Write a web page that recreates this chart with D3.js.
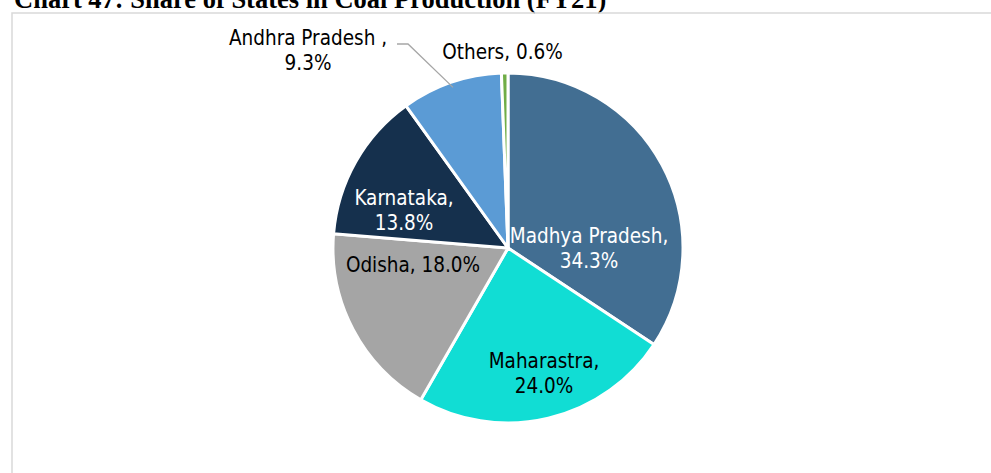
<!DOCTYPE html>
<html>
<head>
<meta charset="utf-8">
<script src="https://cdn.jsdelivr.net/npm/d3@7"></script>
<style>
  html, body { margin: 0; padding: 0; background: #fff; }
  svg { display: block; }
</style>
</head>
<body>
<svg id="chart" width="991" height="473"></svg>
<script>
// Share of states in coal production, FY21 (%)
const states = ["Madhya Pradesh", "Maharastra", "Odisha", "Karnataka", "Andhra Pradesh", "Others"];
const shares = [34.3, 24.0, 18.0, 13.8, 9.3, 0.6];
const sliceColors = ["#426e92", "#11ddd4", "#a5a5a5", "#15304d", "#5b9bd5", "#70ad47"];
const labelInk = ["#ffffff", "#000000", "#000000", "#ffffff", "#000000", "#000000"];
const labelLines = [
  ["Madhya Pradesh,", "34.3%"],
  ["Maharastra,", "24.0%"],
  ["Odisha, 18.0%"],
  ["Karnataka,", "13.8%"],
  ["Andhra Pradesh ,", "9.3%"],
  ["Others, 0.6%"]
];

const svg = d3.select("#chart");
const cx = 508, cy = 248, R = 175;
const labelFont = "'DejaVu Sans Condensed', 'DejaVu Sans', sans-serif";

// Title (runs past the top edge of the page)
svg.append("text")
  .attr("x", 14).attr("y", 8)
  .attr("font-family", "'Liberation Serif', 'Times New Roman', serif")
  .attr("font-weight", "bold")
  .attr("font-size", 26.5)
  .attr("fill", "#000")
  .text("Chart 47: Share of States in Coal Production (FY21)");

// Chart frame
svg.append("rect")
  .attr("x", 12).attr("y", 13)
  .attr("width", 1100).attr("height", 600)
  .attr("fill", "none")
  .attr("stroke", "#d9d9d9")
  .attr("stroke-width", 1.5);

const data = states.map((s, i) => ({ state: s, value: shares[i], i }));
const pie = d3.pie().value(d => d.value).sort(null);
const arcs = pie(data);
const arc = d3.arc().innerRadius(0).outerRadius(R);

const g = svg.append("g").attr("transform", `translate(${cx},${cy})`);
g.selectAll("path.slice")
  .data(arcs)
  .join("path")
  .attr("class", "slice")
  .attr("d", arc)
  .attr("fill", d => sliceColors[d.data.i])
  .attr("stroke", "#fff")
  .attr("stroke-width", 3)
  .attr("stroke-linejoin", "round");

// Label anchors relative to the pie centre (best-fit placement)
const labelOffset = [
  [81, 0],       // Madhya Pradesh
  [36, 125.5],   // Maharastra
  [-95, 17],     // Odisha
  [-104, -38],   // Karnataka
  [-200, -198],  // Andhra Pradesh (outside, with leader)
  [-5.5, -196.5] // Others (outside)
];

// Leader line for Andhra Pradesh, ending just inside the slice edge
const apArc = arcs[4];
const apAng = (apArc.startAngle + apArc.endAngle) / 2;
const tip = [cx + Math.sin(apAng) * R * 0.97, cy - Math.cos(apAng) * R * 0.97];
svg.append("polyline")
  .attr("points", [[397, 44], [408, 44], tip].map(p => p.join(",")).join(" "))
  .attr("fill", "none")
  .attr("stroke", "#a6a6a6")
  .attr("stroke-width", 1.3);

const lh = 25;
arcs.forEach((a, idx) => {
  const k = a.data.i;
  const lines = labelLines[k];
  const [lx, ly] = labelOffset[k];
  const t = g.append("text")
    .attr("font-family", labelFont)
    .attr("font-size", 20.5)
    .attr("fill", labelInk[k])
    .attr("text-anchor", "middle");
  const y0 = ly - (lines.length - 1) * lh / 2;
  lines.forEach((ln, j) => {
    t.append("tspan")
      .attr("x", lx)
      .attr("y", y0 + j * lh)
      .attr("dy", "0.36em")
      .text(ln);
  });
});
</script>
</body>
</html>
